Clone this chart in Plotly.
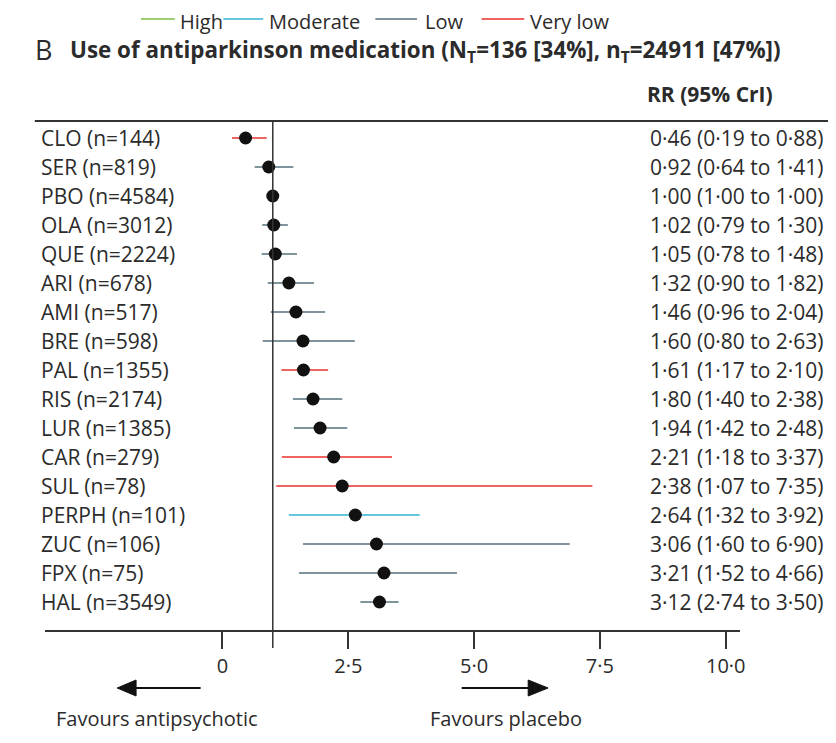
import plotly.graph_objects as go

drugs = ["CLO (n=144)", "SER (n=819)", "PBO (n=4584)", "OLA (n=3012)", "QUE (n=2224)",
         "ARI (n=678)", "AMI (n=517)", "BRE (n=598)", "PAL (n=1355)", "RIS (n=2174)",
         "LUR (n=1385)", "CAR (n=279)", "SUL (n=78)", "PERPH (n=101)", "ZUC (n=106)",
         "FPX (n=75)", "HAL (n=3549)"]
rr = [0.46, 0.92, 1.00, 1.02, 1.05, 1.32, 1.46, 1.60, 1.61, 1.80, 1.94, 2.21, 2.38, 2.64, 3.06, 3.21, 3.12]
lo = [0.19, 0.64, 1.00, 0.79, 0.78, 0.90, 0.96, 0.80, 1.17, 1.40, 1.42, 1.18, 1.07, 1.32, 1.60, 1.52, 2.74]
hi = [0.88, 1.41, 1.00, 1.30, 1.48, 1.82, 2.04, 2.63, 2.10, 2.38, 2.48, 3.37, 7.35, 3.92, 6.90, 4.66, 3.50]
certainty = ["Very low", "Low", None, "Low", "Low", "Low", "Low", "Low", "Very low", "Low",
             "Low", "Very low", "Very low", "Moderate", "Low", "Low", "Low"]
levels = ["High", "Moderate", "Low", "Very low"]
level_colors = {"High": "#7cc142", "Moderate": "#2fb4d2", "Low": "#56707e", "Very low": "#e8302c"}
tick_vals = [0, 2.5, 5.0, 7.5, 10.0]
tick_text = ["0", "2·5", "5·0", "7·5", "10·0"]

OFF = 8                      # page body margin
W, H = 836 - OFF, 743 - OFF
FONT = "Open Sans"
TXT = "#2b2b2b"


def fmt(v):
    return f"{v:.2f}".replace(".", "·")


rows = list(range(len(drugs)))
fig = go.Figure()

for lev in levels:
    for i in [k for k in rows if certainty[k] == lev]:
        fig.add_trace(go.Scatter(x=[lo[i], hi[i]], y=[i, i], mode="lines",
                                 line=dict(color=level_colors[lev], width=1.6),
                                 showlegend=False, hoverinfo="skip"))

fig.add_trace(go.Scatter(x=rr, y=rows, mode="markers",
                         marker=dict(color="#111111", size=13),
                         showlegend=False))

# screen geometry (page pixels)
px_per = 50.7
zero_px = 224
x0px, x1px = 45, 745
top, bottom = 121, 630
row0, step = 138, 29
xr = [(x0px - zero_px) / px_per, (x1px - zero_px) / px_per]
yr = [(bottom - row0) / step, (top - row0) / step]
ph = bottom - top


def fx(p):
    return (p - OFF) / W


def fy(p):
    return (bottom - p) / ph


fig.update_layout(
    width=W, height=H,
    margin=dict(l=0, r=0, t=top - OFF, b=H - (bottom - OFF)),
    paper_bgcolor="white", plot_bgcolor="white",
    showlegend=False,
    xaxis=dict(domain=[fx(x0px), fx(x1px)], range=xr, showgrid=False, zeroline=False,
               showline=True, linecolor="#333333", linewidth=1.5,
               ticks="outside", ticklen=17, tickwidth=1.5, tickcolor="#333333",
               tickvals=tick_vals, ticktext=tick_text,
               tickfont=dict(family=FONT, size=20, color=TXT)),
    yaxis=dict(range=yr, showgrid=False, zeroline=False, showticklabels=False,
               showline=False),
)

LEG_Y = 22
shapes = []
# top rule
shapes.append(dict(type="line", xref="paper", yref="paper", x0=fx(35), x1=1.0,
                   y0=1, y1=1, line=dict(color="#333333", width=2)))
# reference line at RR = 1
shapes.append(dict(type="line", xref="x", yref="paper", x0=1, x1=1,
                   y0=fy(648), y1=1, line=dict(color="#333333", width=1.5)))
# legend swatches
leg = [("High", 142, 176, 179), ("Moderate", 225, 265, 269), ("Low", 378, 420, 426), ("Very low", 485, 528, 532)]
for name, a, b, tx in leg:
    shapes.append(dict(type="line", xref="paper", yref="paper", x0=fx(a), x1=fx(b),
                       y0=fy(LEG_Y - 3), y1=fy(LEG_Y - 3), line=dict(color=level_colors[name], width=1.6)))
# direction arrows
ay = 688
shapes.append(dict(type="line", xref="paper", yref="paper", x0=fx(134), x1=fx(202),
                   y0=fy(ay), y1=fy(ay), line=dict(color="#111111", width=2)))
shapes.append(dict(type="path", xref="paper", yref="paper",
                   path=f"M {fx(118)} {fy(ay)} L {fx(137)} {fy(ay - 8)} L {fx(137)} {fy(ay + 8)} Z",
                   fillcolor="#111111", line=dict(color="#111111", width=1)))
shapes.append(dict(type="line", xref="paper", yref="paper", x0=fx(465), x1=fx(535),
                   y0=fy(ay), y1=fy(ay), line=dict(color="#111111", width=2)))
shapes.append(dict(type="path", xref="paper", yref="paper",
                   path=f"M {fx(552)} {fy(ay)} L {fx(532)} {fy(ay - 8)} L {fx(532)} {fy(ay + 8)} Z",
                   fillcolor="#111111", line=dict(color="#111111", width=1)))
fig.update_layout(shapes=shapes)

ann = []
for name, a, b, tx in leg:
    ann.append(dict(xref="paper", yref="paper", x=fx(tx), y=fy(LEG_Y), text=name, showarrow=False,
                    xanchor="left", yanchor="middle", font=dict(family=FONT, size=20, color=TXT)))

ann.append(dict(xref="paper", yref="paper", x=fx(33), y=fy(50), text="B", showarrow=False,
                xanchor="left", yanchor="middle", font=dict(family=FONT, size=27, color=TXT)))
ann.append(dict(xref="paper", yref="paper", x=fx(68), y=fy(51),
                text="<b>Use of antiparkinson medication (N<sub>T</sub>=136 [34%], n<sub>T</sub>=24911 [47%])</b>",
                showarrow=False, xanchor="left", yanchor="middle",
                font=dict(family=FONT, size=22.4, color=TXT)))
ann.append(dict(xref="paper", yref="paper", x=fx(781), y=fy(94), text="<b>RR (95% CrI)</b>",
                showarrow=False, xanchor="right", yanchor="middle",
                font=dict(family=FONT, size=21, color=TXT)))

for i in rows:
    ann.append(dict(xref="paper", yref="y", x=fx(39), y=i, text=drugs[i], showarrow=False,
                    xanchor="left", yanchor="middle", font=dict(family=FONT, size=21, color=TXT)))
    ann.append(dict(xref="paper", yref="y", x=fx(653), y=i,
                    text=f"{fmt(rr[i])} ({fmt(lo[i])} to {fmt(hi[i])})", showarrow=False,
                    xanchor="left", yanchor="middle", font=dict(family=FONT, size=21, color=TXT)))

ann.append(dict(xref="paper", yref="paper", x=fx(158), y=fy(718), text="Favours antipsychotic",
                showarrow=False, xanchor="center", yanchor="middle", font=dict(family=FONT, size=20, color=TXT)))
ann.append(dict(xref="paper", yref="paper", x=fx(510), y=fy(718), text="Favours placebo",
                showarrow=False, xanchor="center", yanchor="middle", font=dict(family=FONT, size=20, color=TXT)))

fig.update_layout(annotations=ann)
fig.write_html("out.html")
